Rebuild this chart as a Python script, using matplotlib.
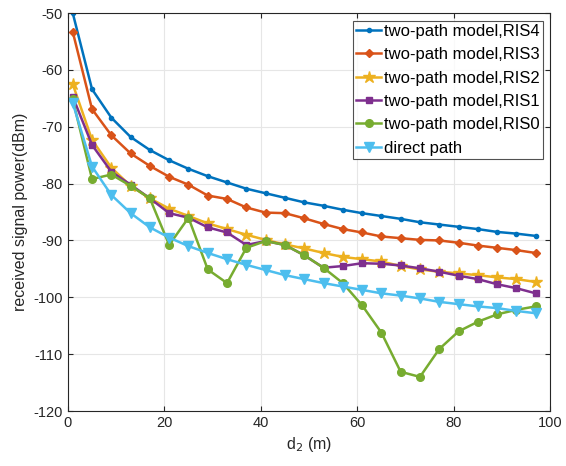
import matplotlib
matplotlib.use("Agg")
import matplotlib.pyplot as plt
import numpy as np

plt.rcParams['font.family'] = ['Liberation Sans', 'DejaVu Sans']
plt.rcParams['axes.unicode_minus'] = False

# distance d2 (m)
d2 = np.arange(1, 98, 4)

ris4 = [-50.0, -63.4, -68.4, -71.8, -74.1, -75.9, -77.4, -78.7, -79.8, -80.9, -81.7, -82.5, -83.3,
        -83.9, -84.6, -85.2, -85.7, -86.2, -86.8, -87.2, -87.6, -88.0, -88.5, -88.8, -89.2]
ris3 = [-53.3, -66.9, -71.5, -74.7, -76.9, -78.8, -80.2, -82.1, -82.7, -84.2, -85.1, -85.2, -86.1,
        -87.1, -88.0, -88.6, -89.3, -89.6, -89.9, -90.0, -90.4, -90.9, -91.3, -91.7, -92.2]
ris2 = [-62.5, -72.3, -77.2, -80.4, -82.6, -84.4, -85.7, -87.0, -88.0, -89.0, -89.9, -90.7, -91.4,
        -92.2, -92.9, -93.3, -93.7, -94.5, -95.1, -95.5, -95.8, -96.1, -96.5, -96.8, -97.3]
ris1 = [-64.7, -73.2, -77.9, -80.2, -82.6, -85.2, -86.0, -87.7, -88.6, -90.8, -90.1, -90.8, -92.6,
        -94.8, -94.5, -94.0, -94.1, -94.4, -94.9, -95.5, -96.2, -96.8, -97.7, -98.4, -99.3]
ris0 = [-65.2, -79.2, -78.4, -80.4, -82.6, -90.8, -86.0, -95.1, -97.5, -91.3, -90.1, -90.8, -92.6,
        -94.8, -97.5, -101.4, -106.2, -113.1, -114.0, -109.1, -106.0, -104.3, -103.0, -102.2, -101.6]
direct = [-65.8, -77.0, -82.0, -85.2, -87.7, -89.5, -91.0, -92.2, -93.3, -94.3, -95.2, -96.1, -96.8,
          -97.5, -98.1, -98.7, -99.3, -99.7, -100.2, -100.8, -101.2, -101.6, -101.9, -102.4, -102.8]

series = [
    (ris4, 'two-path model,RIS4', '#0072BD', '.', 6),
    (ris3, 'two-path model,RIS3', '#D95319', 'D', 4.5),
    (ris2, 'two-path model,RIS2', '#EDB120', '*', 9),
    (ris1, 'two-path model,RIS1', '#7E2F8E', 's', 4.5),
    (ris0, 'two-path model,RIS0', '#77AC30', 'o', 5.5),
    (direct, 'direct path', '#4DBEEE', 'v', 6.5),
]

fig = plt.figure(figsize=(5.66, 4.66), dpi=100)
ax = fig.add_axes([0.120, 0.118, 0.852, 0.854])

for vals, name, col, mk, ms in series:
    ax.plot(d2, vals, color=col, marker=mk, markersize=ms, linewidth=1.8, label=name)

ax.set_xlim(0, 100)
ax.set_ylim(-120, -50)
ax.set_xticks(np.arange(0, 101, 20))
ax.set_yticks(np.arange(-120, -49, 10))
ax.grid(True, color='#e6e6e6', linewidth=0.8)
ax.set_axisbelow(True)
ax.tick_params(direction='in', top=True, right=True, labelsize=10.5, colors='#262626')
for s in ax.spines.values():
    s.set_color('#262626')
    s.set_linewidth(0.8)

ax.set_xlabel('d$_2$ (m)', fontsize=11.5, color='#262626')
ax.set_ylabel('received signal power(dBm)', fontsize=11.5, color='#262626')

leg = ax.legend(loc='upper right', fontsize=12, frameon=True, fancybox=False,
                edgecolor='#262626', handlelength=1.5, handletextpad=0.15,
                borderpad=0.2, labelspacing=0.5, borderaxespad=0.45)
leg.get_frame().set_linewidth(0.8)

fig.savefig('out.png', dpi=100)
